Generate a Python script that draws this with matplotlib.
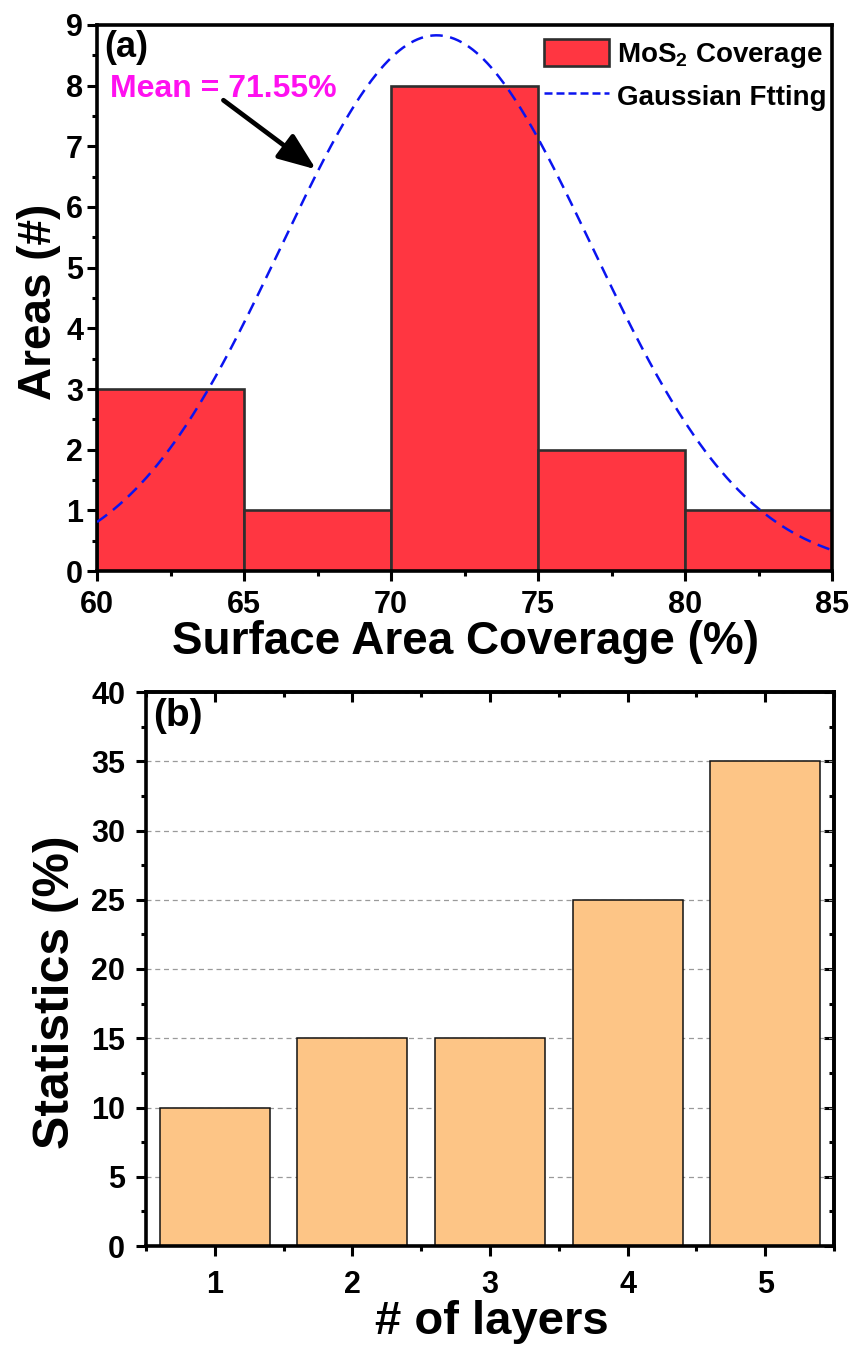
import numpy as np
import matplotlib
matplotlib.use("Agg")
import matplotlib.pyplot as plt
from matplotlib.ticker import MultipleLocator
from matplotlib.patches import Patch
from matplotlib.lines import Line2D

# ---- data -------------------------------------------------------------
bin_edges = [60, 65, 70, 75, 80, 85]
area_counts = [3, 1, 8, 2, 1]
fit_mean = 71.55
fit_sigma = 5.28
fit_amplitude = 8.83

layers = [1, 2, 3, 4, 5]
layer_stats = [10, 15, 15, 25, 35]

# ---- style ------------------------------------------------------------
plt.rcParams["font.family"] = ["Liberation Sans", "DejaVu Sans"]
plt.rcParams["font.weight"] = "bold"
plt.rcParams["mathtext.fontset"] = "custom"
plt.rcParams["mathtext.rm"] = "Liberation Sans:bold"
plt.rcParams["mathtext.it"] = "Liberation Sans:bold"
plt.rcParams["mathtext.bf"] = "Liberation Sans:bold"
plt.rcParams["mathtext.default"] = "rm"

W, H = 857, 1351
fig = plt.figure(figsize=(W / 100, H / 100), dpi=100)

def px_axes(l, t, r, b):
    return [l / W, 1 - b / H, (r - l) / W, (b - t) / H]

spine_lw = 2.6
tick_w = 2.2
red = "#FF3641"
blue = "#0A14F0"

# ---- (a) coverage histogram ------------------------------------------
ax1 = fig.add_axes(px_axes(97, 25, 832, 571))
widths = np.diff(bin_edges)
ax1.bar(bin_edges[:-1], area_counts, width=widths, align="edge",
        color=red, edgecolor="#2e2e2e", linewidth=1.9, zorder=2)

xs = np.linspace(bin_edges[0], bin_edges[-1], 400)
gauss = fit_amplitude * np.exp(-(xs - fit_mean) ** 2 / (2 * fit_sigma ** 2))
ax1.plot(xs, gauss, color=blue, lw=1.8, dashes=(5, 3), zorder=3)

ax1.set_xlim(60, 85)
ax1.set_ylim(0, 9)
ax1.xaxis.set_major_locator(MultipleLocator(5))
ax1.xaxis.set_minor_locator(MultipleLocator(2.5))
ax1.yaxis.set_major_locator(MultipleLocator(1))
ax1.yaxis.set_minor_locator(MultipleLocator(0.5))
ax1.tick_params(which="major", direction="out", length=7, width=tick_w,
                labelsize=22)
ax1.tick_params(which="minor", direction="out", length=3.5, width=tick_w)
ax1.tick_params(axis="x", which="major", pad=7)
ax1.tick_params(axis="y", which="major", pad=3)
for s in ax1.spines.values():
    s.set_linewidth(spine_lw)

ax1.set_xlabel("Surface Area Coverage (%)", fontsize=33, fontweight="bold")
ax1.set_ylabel("Areas (#)", fontsize=33, fontweight="bold")
ax1.xaxis.set_label_coords(0.501, -0.090)
ax1.yaxis.set_label_coords(-0.049, 0.493)

ax1.text(0.010, 0.99, "(a)", transform=ax1.transAxes, fontsize=26,
         fontweight="bold", ha="left", va="top")
ax1.text(60.45, 7.95, "Mean = 71.55%", color="#FF10F0", fontsize=23,
         fontweight="bold", ha="left", va="center")
ax1.annotate("", xy=(67.45, 6.62), xytext=(64.3, 7.76),
             arrowprops=dict(arrowstyle="-|>,head_length=1.15,head_width=0.45",
                             lw=3.4, color="black", shrinkA=0, shrinkB=0,
                             mutation_scale=20))

handles = [Patch(facecolor=red, edgecolor="#2e2e2e", linewidth=1.9),
           Line2D([0], [0], color=blue, lw=1.8, dashes=(3.2, 1.6))]
ax1.legend(handles, [r"MoS$_2$ Coverage", "Gaussian Ftting"],
           loc="upper right", bbox_to_anchor=(1.008, 0.995), frameon=False,
           fontsize=20, handlelength=2.35, handleheight=1.15,
           handletextpad=0.3, labelspacing=0.42, borderaxespad=0.2,
           borderpad=0.2)

# ---- (b) layer statistics --------------------------------------------
ax2 = fig.add_axes(px_axes(146, 692, 834, 1246))
ax2.set_axisbelow(True)
ax2.yaxis.grid(True, color="#9a9a9a", lw=0.9, dashes=(4, 3))
ax2.bar(layers, layer_stats, width=0.8, color="#FDC586",
        edgecolor="#111111", linewidth=1.1, zorder=2)
ax2.set_xlim(0.5, 5.5)
ax2.set_ylim(0, 40)
ax2.xaxis.set_major_locator(MultipleLocator(1))
ax2.xaxis.set_minor_locator(MultipleLocator(1, offset=0.5))
ax2.yaxis.set_major_locator(MultipleLocator(5))
ax2.yaxis.set_minor_locator(MultipleLocator(2.5))
ax2.tick_params(which="major", direction="out", length=7, width=tick_w,
                labelsize=22)
ax2.tick_params(which="minor", direction="out", length=3.5, width=tick_w)
ax2.tick_params(axis="x", which="major", pad=10)
ax2.tick_params(axis="y", which="major", pad=8)
for s in ax2.spines.values():
    s.set_linewidth(spine_lw)

# inward ticks mirrored on the top and right edges
top = ax2.secondary_xaxis("top")
top.xaxis.set_major_locator(MultipleLocator(1))
top.xaxis.set_minor_locator(MultipleLocator(1, offset=0.5))
top.tick_params(which="major", direction="in", length=7, width=tick_w,
                labeltop=False)
top.tick_params(which="minor", direction="in", length=3.5, width=tick_w)
top.spines["top"].set_linewidth(spine_lw)
right = ax2.secondary_yaxis("right")
right.yaxis.set_major_locator(MultipleLocator(5))
right.yaxis.set_minor_locator(MultipleLocator(2.5))
right.tick_params(which="major", direction="in", length=7, width=tick_w,
                  labelright=False)
right.tick_params(which="minor", direction="in", length=3.5, width=tick_w)
right.spines["right"].set_linewidth(spine_lw)

ax2.set_xlabel("# of layers", fontsize=34, fontweight="bold")
ax2.set_ylabel("Statistics (%)", fontsize=36, fontweight="bold")
ax2.xaxis.set_label_coords(0.503, -0.098)
ax2.yaxis.set_label_coords(-0.098, 0.458)

ax2.text(0.010, 0.99, "(b)", transform=ax2.transAxes, fontsize=28,
         fontweight="bold", ha="left", va="top")

fig.savefig("out.png", dpi=100)
